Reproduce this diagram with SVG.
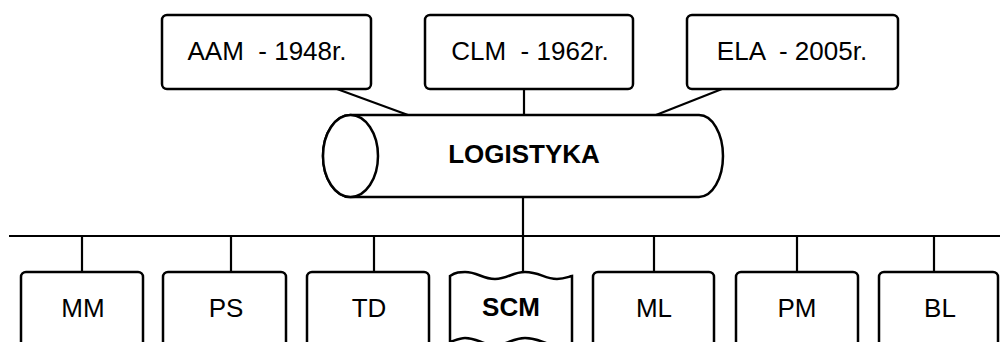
<svg xmlns="http://www.w3.org/2000/svg" width="1000" height="342" viewBox="0 0 1000 342">
<style>
.box{fill:#fff;stroke:#000;stroke-width:2.5}
.ln{fill:none;stroke:#000;stroke-width:2.2}
.t{font-family:"Liberation Sans",Arial,sans-serif;font-size:26px;fill:#000;text-anchor:middle;white-space:pre}
.b{font-weight:bold}
</style>
<rect width="1000" height="342" fill="#fff"/>
<g id="connectors">
<line class="ln" x1="337" y1="89" x2="408" y2="115"/>
<line class="ln" x1="524" y1="89" x2="524" y2="115"/>
<line class="ln" x1="722" y1="89" x2="656" y2="115"/>
<line class="ln" x1="523" y1="197" x2="523" y2="273"/>
<line class="ln" x1="9" y1="236" x2="1000" y2="236"/>
<line class="ln" x1="82" y1="236" x2="82" y2="272"/>
<line class="ln" x1="231" y1="236" x2="231" y2="272"/>
<line class="ln" x1="374" y1="236" x2="374" y2="272"/>
<line class="ln" x1="654" y1="236" x2="654" y2="272"/>
<line class="ln" x1="797" y1="236" x2="797" y2="272"/>
<line class="ln" x1="934" y1="236" x2="934" y2="272"/>
</g>
<g id="aam">
<rect class="box" x="162" y="15" width="209" height="74" rx="5"/>
<text class="t" x="267" y="60" xml:space="preserve">AAM  - 1948r.</text>
</g>
<g id="clm">
<rect class="box" x="425" y="15" width="208" height="74" rx="5"/>
<text class="t" x="530" y="60" xml:space="preserve">CLM  - 1962r.</text>
</g>
<g id="ela">
<rect class="box" x="687" y="15" width="211" height="74" rx="5"/>
<text class="t" x="792" y="60" xml:space="preserve">ELA  - 2005r.</text>
</g>
<g id="logistyka">
<path class="box" d="M350.5,115 L699,115 A24,41 0 0 1 699,197 L350.5,197 A27.5,41 0 0 1 350.5,115 Z"/>
<ellipse class="box" cx="350.5" cy="156" rx="27.5" ry="41"/>
<text class="t b" x="524" y="163">LOGISTYKA</text>
</g>
<g id="mm">
<rect class="box" x="21" y="272" width="122" height="100" rx="5"/>
<text class="t" x="83" y="317">MM</text>
</g>
<g id="ps">
<rect class="box" x="163" y="272" width="123" height="100" rx="5"/>
<text class="t" x="226" y="317">PS</text>
</g>
<g id="td">
<rect class="box" x="307" y="272" width="122" height="100" rx="5"/>
<text class="t" x="369" y="317">TD</text>
</g>
<g id="scm">
<path class="box" d="M450,276 C456,272 460,272 465,272 C478,272 482,279 495,279 C508,279 512,272 525,272 C540,272 544,279 557,279 C564,279 568,277 572,276 L572,342 L572,345 C568,344 564,345 557,345 C544,345 540,338 525,338 C512,338 508,345 495,345 C482,345 478,338 465,338 C460,338 456,340 450,342 Z"/>
<text class="t b" x="511" y="316">SCM</text>
</g>
<g id="ml">
<rect class="box" x="593" y="272" width="121" height="100" rx="5"/>
<text class="t" x="654" y="317">ML</text>
</g>
<g id="pm">
<rect class="box" x="736" y="272" width="122" height="100" rx="5"/>
<text class="t" x="797" y="317">PM</text>
</g>
<g id="bl">
<rect class="box" x="879" y="272" width="119" height="100" rx="5"/>
<text class="t" x="940" y="317">BL</text>
</g>
</svg>
